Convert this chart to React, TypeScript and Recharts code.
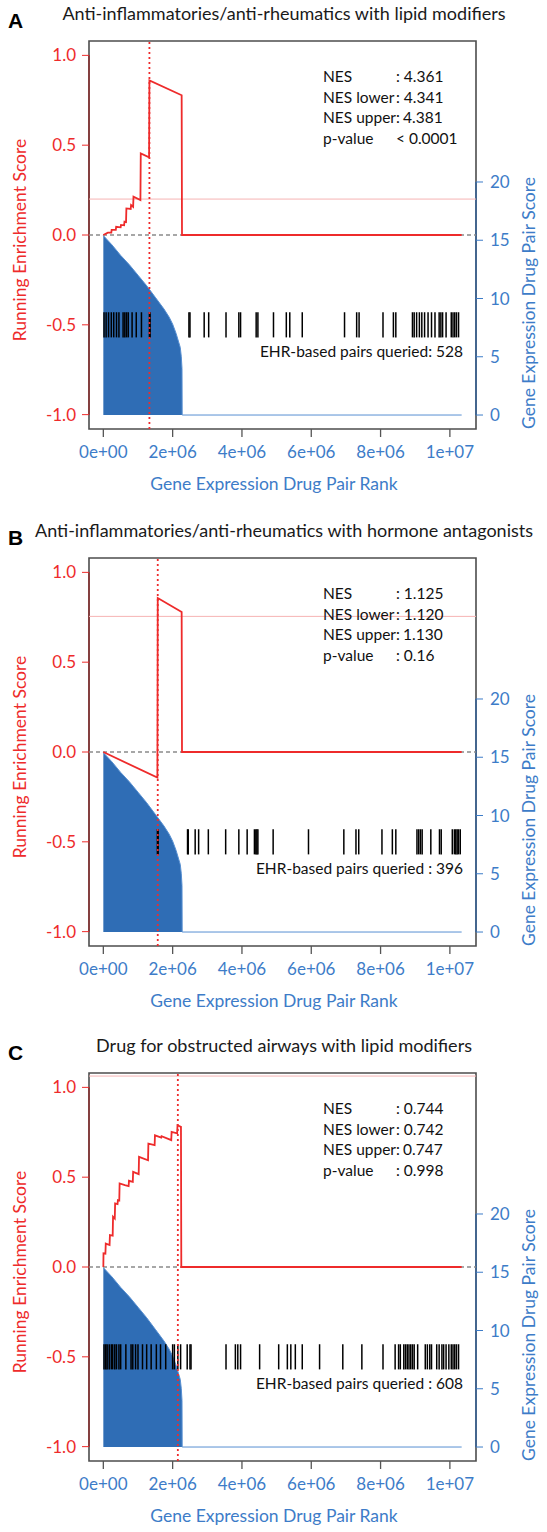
import React from 'react'
import {
  ComposedChart, Line, Area, XAxis, YAxis, ReferenceLine, ReferenceArea
} from 'recharts'

const W = 547
const H = 510
const RED = '#ee2b2b'
const BLUE = '#2f6db5'
const BLUE_TEXT = '#3d7cc8'
const FONT = 'Lato, "Open Sans", sans-serif'

// ranks are kept in millions
const N_RANK = 10.34
const X_DOMAIN = [-0.04 * N_RANK, 1.04 * N_RANK]
const X_TICKS = [0, 2, 4, 6, 8, 10]
const X_TICK_LABELS = ['0e+00', '2e+06', '4e+06', '6e+06', '8e+06', '1e+07']
const ES_TICKS = [-1, -0.5, 0, 0.5, 1]
const SCORE_TICKS = [0, 5, 10, 15, 20]
const RUG_TOP = -0.43
const RUG_BOTTOM = -0.57

// gene expression drug pair score, same ranking in all three panels
const SCORE_RANK = [0, 0.25, 0.5, 0.75, 1.0, 1.25, 1.5, 1.75, 1.9, 2.0, 2.1, 2.18, 2.22, 2.25, 2.27, 2.275, 10.34]
const SCORE_VALUE = [15.4, 14.6, 13.7, 12.9, 12.0, 11.1, 10.1, 9.1, 8.4, 7.8, 7.0, 6.2, 5.8, 5.0, 4.0, 0, 0]

// A: anti-inflammatories/anti-rheumatics + lipid modifiers
const ES_A_RANK = [0, 0.13, 0.23, 0.24, 0.36, 0.37, 0.5, 0.51, 0.6, 0.61, 0.655, 0.665, 0.79, 0.8, 0.86, 0.87, 1.07, 1.08, 1.32, 1.33, 2.26, 2.27, 10.34]
const ES_A_VALUE = [0, 0.013, 0.013, 0.028, 0.028, 0.046, 0.043, 0.056, 0.054, 0.074, 0.072, 0.148, 0.145, 0.167, 0.157, 0.213, 0.194, 0.454, 0.432, 0.861, 0.778, 0, 0]
const HITS_A = [0.02, 0.08, 0.15, 0.23, 0.3, 0.38, 0.45, 0.57, 0.62, 0.67, 0.72, 0.83, 0.95, 1.1, 1.33, 1.35,
  2.47, 2.5, 2.91, 3.04, 3.54, 3.91, 3.96, 4.41, 4.46, 4.91, 5.28, 5.38, 5.74, 6.96, 7.31, 7.38, 8.07, 8.37, 8.44,
  8.92, 8.97, 9.04, 9.12, 9.19, 9.27, 9.37, 9.47, 9.57, 9.69, 9.74, 9.79, 9.89, 10.04, 10.09, 10.14, 10.19, 10.25]
const STATS_A = ['NES', 'NES lower', 'NES upper:', 'p-value']
const STATS_A_VAL = [': 4.361', ': 4.341', '4.381', '< 0.0001']

// B: anti-inflammatories/anti-rheumatics + hormone antagonists
const ES_B_RANK = [0, 1.56, 1.57, 2.26, 2.27, 10.34]
const ES_B_VALUE = [0, -0.143, 0.857, 0.779, 0, 0]
const HITS_B = [1.56, 1.57, 1.58, 2.43, 2.45, 2.65, 2.75, 3.03, 3.53, 3.91, 4.15, 4.36, 4.4, 4.43, 4.46, 4.9, 5.92,
  6.94, 7.29, 7.37, 8.04, 8.34, 8.44, 9.05, 9.1, 9.15, 9.2, 9.45, 9.7, 9.75, 10.07, 10.13, 10.17, 10.21, 10.25, 10.3]
const STATS_B = ['NES', 'NES lower', 'NES upper:', 'p-value']
const STATS_B_VAL = [': 1.125', ': 1.120', '1.130', ': 0.16']

// C: drug for obstructed airways + lipid modifiers
const ES_C_RANK = [0, 0.005, 0.06, 0.07, 0.18, 0.19, 0.27, 0.28, 0.33, 0.34, 0.41, 0.42, 0.46, 0.47, 0.62, 0.73, 0.74,
  0.85, 0.86, 1.02, 1.03, 1.29, 1.3, 1.48, 1.49, 1.67, 1.68, 1.96, 1.97, 2.13, 2.14, 2.24, 2.25, 10.34]
const ES_C_VALUE = [0, 0.076, 0.074, 0.13, 0.122, 0.178, 0.175, 0.28, 0.27, 0.354, 0.35, 0.372, 0.37, 0.465, 0.456, 0.45, 0.48,
  0.474, 0.53, 0.517, 0.613, 0.594, 0.687, 0.678, 0.733, 0.72, 0.728, 0.706, 0.752, 0.744, 0.789, 0.78, 0, 0]
const HITS_C = [0.02, 0.07, 0.11, 0.17, 0.23, 0.27, 0.33, 0.38, 0.45, 0.5, 0.65, 0.8, 0.85, 0.93, 1.0, 1.13, 1.25, 1.38,
  1.53, 1.65, 1.8, 2.0, 2.05, 2.15, 2.23, 2.42, 2.5, 2.53, 3.54, 3.81, 3.88, 3.96, 4.51, 5.06, 5.31, 5.41, 5.54, 5.74,
  6.24, 6.91, 7.46, 8.07, 8.42, 8.52, 8.57, 8.67, 8.72, 8.77, 8.82, 8.87, 8.92, 8.97, 9.07, 9.29, 9.35, 9.42, 9.47,
  9.62, 9.69, 9.77, 9.82, 9.89, 9.97, 10.04, 10.09, 10.14, 10.19, 10.25]
const STATS_C = ['NES', 'NES lower', 'NES upper:', 'p-value']
const STATS_C_VAL = [': 0.744', ': 0.742', '0.747', ': 0.998']

const PANELS = [
  { letter: 'A', title: 'Anti-inflammatories/anti-rheumatics with lipid modifiers', esRank: ES_A_RANK, esValue: ES_A_VALUE,
    hits: HITS_A, peak: 1.33, nullEs: 0.2, stats: STATS_A, statVals: STATS_A_VAL, queried: 'EHR-based pairs queried: 528', top: 0 },
  { letter: 'B', title: 'Anti-inflammatories/anti-rheumatics with hormone antagonists', esRank: ES_B_RANK, esValue: ES_B_VALUE,
    hits: HITS_B, peak: 1.57, nullEs: 0.755, stats: STATS_B, statVals: STATS_B_VAL, queried: 'EHR-based pairs queried : 396', top: 517 },
  { letter: 'C', title: 'Drug for obstructed airways with lipid modifiers', esRank: ES_C_RANK, esValue: ES_C_VALUE,
    hits: HITS_C, peak: 2.15, nullEs: 1.063, stats: STATS_C, statVals: STATS_C_VAL, queried: 'EHR-based pairs queried : 608', top: 1032 },
]

const scoreData = SCORE_RANK.map((r, i) => ({ rank: r, score: SCORE_VALUE[i] }))

function Panel({ p }: { p: typeof PANELS[number] }) {
  const esData = p.esRank.map((r, i) => ({ rank: r, es: p.esValue[i] }))
  const abs = { position: 'absolute' as const, whiteSpace: 'nowrap' as const, lineHeight: 1, fontFamily: FONT }
  return (
    <div style={{ position: 'absolute', left: 0, top: p.top, width: W, height: H }}>
      <ComposedChart width={W} height={H} margin={{ top: 41, right: 0, bottom: 0, left: 0 }}>
        <XAxis type="number" dataKey="rank" domain={X_DOMAIN} ticks={X_TICKS} interval={0} allowDataOverflow
          height={81} axisLine={false} tickSize={8} tickMargin={9} tickLine={{ stroke: '#555', strokeWidth: 1.3 }}
          tick={{ fill: BLUE_TEXT, fontSize: 17, fontFamily: FONT }}
          tickFormatter={(v: number) => X_TICK_LABELS[X_TICKS.indexOf(v)]} />
        <YAxis yAxisId="es" domain={[-1.08, 1.08]} ticks={ES_TICKS} interval={0} allowDataOverflow width={89}
          axisLine={false} tickSize={7} tickMargin={6} tickLine={{ stroke: RED }}
          tick={{ fill: RED, fontSize: 17, fontFamily: FONT }} tickFormatter={(v: number) => v.toFixed(1)} />
        <YAxis yAxisId="score" orientation="right" domain={[-1.2, 32.1]} ticks={SCORE_TICKS} interval={0}
          allowDataOverflow width={71} axisLine={false} tickSize={7} tickMargin={7} tickLine={{ stroke: BLUE_TEXT }}
          tick={{ fill: BLUE_TEXT, fontSize: 17, fontFamily: FONT }} />
        <ReferenceArea yAxisId="es" x1={X_DOMAIN[0]} x2={X_DOMAIN[1]} y1={-1.08} y2={1.08}
          fill="none" stroke="#4d4d4d" strokeWidth={1.6} ifOverflow="visible" />
        <ReferenceLine yAxisId="es" segment={[{ x: X_DOMAIN[0], y: -1 }, { x: X_DOMAIN[0], y: 1 }]}
          stroke="#8a3434" strokeWidth={1.6} ifOverflow="visible" />
        <ReferenceLine yAxisId="score" segment={[{ x: X_DOMAIN[1], y: 0 }, { x: X_DOMAIN[1], y: 20 }]}
          stroke="#3a6496" strokeWidth={1.6} ifOverflow="visible" />
        <ReferenceLine yAxisId="es" y={p.nullEs} stroke="#f6b3b3" strokeWidth={1} />
        <ReferenceLine yAxisId="es" y={0} stroke="#8a8a8a" strokeDasharray="4 3" strokeWidth={1.5} />
        <Area yAxisId="score" data={scoreData} dataKey="score" type="linear" baseValue={0}
          fill={BLUE} fillOpacity={1} stroke="#5890d2" strokeWidth={1} isAnimationActive={false} />
        {p.hits.map((h, i) => (
          <ReferenceLine key={i} yAxisId="es" segment={[{ x: h, y: RUG_TOP }, { x: h, y: RUG_BOTTOM }]}
            stroke="#000" strokeWidth={1.5} />
        ))}
        <Line yAxisId="es" data={esData} dataKey="es" type="linear" stroke={RED} strokeWidth={1.8}
          dot={false} activeDot={false} isAnimationActive={false} />
        <ReferenceLine yAxisId="es" x={p.peak} stroke={RED} strokeDasharray="2 3" strokeWidth={1.8} />
      </ComposedChart>

      <div style={{ ...abs, left: 8, top: 20, transform: 'translateY(-50%)', fontFamily: '"Liberation Sans", Arial, sans-serif',
        fontWeight: 700, fontSize: 21, color: '#000' }}>{p.letter}</div>
      <div style={{ ...abs, left: 284, top: 13, transform: 'translate(-50%,-50%)', fontSize: 18, color: '#1a1a1a' }}>{p.title}</div>

      {p.stats.map((s, i) => (
        <div key={s} style={{ ...abs, left: 323, top: 77 + i * 20.7, transform: 'translateY(-50%)', fontSize: 15.5, color: '#111' }}>{s}</div>
      ))}
      {p.statVals.map((s, i) => (
        <div key={i} style={{ ...abs, left: s.startsWith(':') || s.startsWith('<') ? 396 : 403, top: 77 + i * 20.7,
          transform: 'translateY(-50%)', fontSize: 15.5, color: '#111' }}>{s}</div>
      ))}
      <div style={{ ...abs, right: W - 463, top: 352, transform: 'translateY(-50%)', fontSize: 15.5, color: '#111' }}>{p.queried}</div>

      <div style={{ ...abs, left: 20, top: 240, transform: 'translate(-50%,-50%) rotate(-90deg)', fontSize: 17.5, color: RED }}>
        Running Enrichment Score</div>
      <div style={{ ...abs, left: 529, top: 303, transform: 'translate(-50%,-50%) rotate(-90deg)', fontSize: 17.5, color: BLUE_TEXT }}>
        Gene Expression Drug Pair Score</div>
      <div style={{ ...abs, left: 274, top: 484, transform: 'translate(-50%,-50%)', fontSize: 17.5, color: BLUE_TEXT }}>
        Gene Expression Drug Pair Rank</div>
    </div>
  )
}

export default function App() {
  return (
    <div style={{ position: 'absolute', left: 0, top: 0, width: W, height: 1532, background: '#fff' }}>
      {PANELS.map(p => <Panel key={p.letter} p={p} />)}
    </div>
  )
}
